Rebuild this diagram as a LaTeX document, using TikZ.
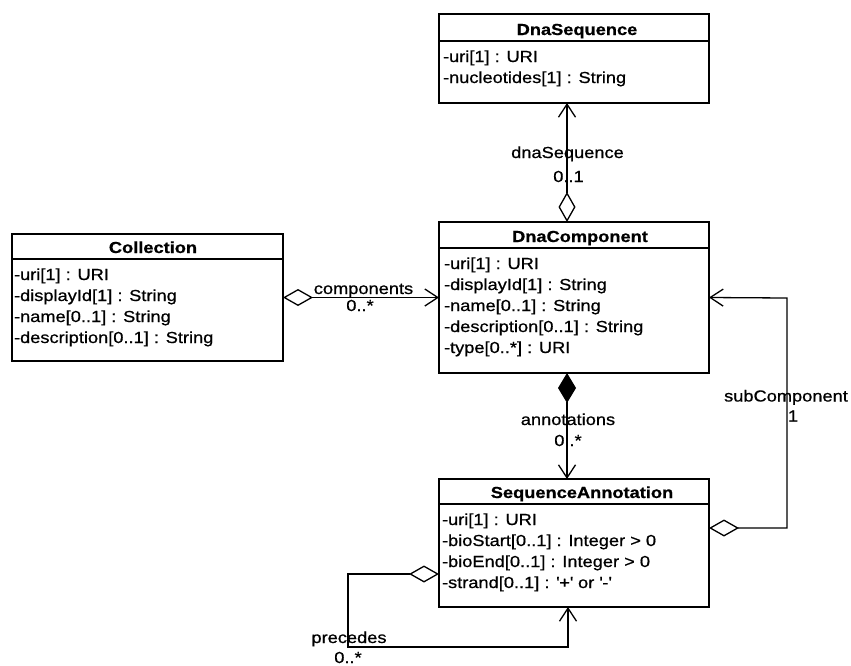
\documentclass[tikz,border=0pt]{standalone}
\usepackage{fontspec}
\setmainfont{Liberation Sans}[FakeStretch=1.14,FakeBold=0.7]
\usetikzlibrary{arrows.meta}
\begin{document}
\begin{tikzpicture}[x=1pt,y=-1pt,line width=1.3pt,
  txt/.style={inner sep=0pt,outer sep=0pt,font=\fontsize{16}{19}\selectfont},
  attr/.style={txt,anchor=base west},
  ctitle/.style={txt,anchor=base,font=\fontsize{16}{19}\selectfont\bfseries},
  lbl/.style={txt,anchor=base},
  cls/.style={draw,line width=1.3pt,anchor=north west,inner sep=0pt,outer sep=0pt,minimum width=270pt},
  divider/.style={line width=1.3pt},
  agg/.style={{Diamond[open,length=30pt,width=17pt]}-{Straight Barb[length=13pt,width=17pt]}},
  compo/.style={{Diamond[length=30pt,width=18pt]}-{Straight Barb[length=13pt,width=17pt]}},
]
\fill[white] (0,0) rectangle (851,665);
\useasboundingbox (0,0) rectangle (851,665);

% DnaSequence
\node[cls,minimum height=89pt] (dnaseq) at (439,14) {};
\draw[divider] (dnaseq.north west) ++(0,27) -- ++(270,0);
\node[ctitle] (dnaseqT) at (577,35) {DnaSequence};
\node[attr] (dnaseqA1) at (443,62) {-uri[1] : URI};
\node[attr] (dnaseqA2) at (443,83) {-nucleotides[1] : String};

% Collection
\node[cls,minimum width=271pt,minimum height=127pt] (coll) at (12,234) {};
\draw[divider] (coll.north west) ++(0,25) -- ++(271,0);
\node[ctitle] (collT) at (153,253) {Collection};
\node[attr] (collA1) at (14,280) {-uri[1] : URI};
\node[attr] (collA2) at (14,301) {-displayId[1] : String};
\node[attr] (collA3) at (14,322) {-name[0..1] : String};
\node[attr] (collA4) at (14,343) {-description[0..1] : String};

% DnaComponent
\node[cls,minimum height=151pt] (dnacomp) at (439,222) {};
\draw[divider] (dnacomp.north west) ++(0,26) -- ++(270,0);
\node[ctitle] (dnacompT) at (580,242) {DnaComponent};
\node[attr] (dnacompA1) at (444,269) {-uri[1] : URI};
\node[attr] (dnacompA2) at (444,290) {-displayId[1] : String};
\node[attr] (dnacompA3) at (444,311) {-name[0..1] : String};
\node[attr] (dnacompA4) at (444,332) {-description[0..1] : String};
\node[attr] (dnacompA5) at (444,353) {-type[0..*] : URI};

% SequenceAnnotation
\node[cls,minimum height=128pt] (seqann) at (439,479) {};
\draw[divider] (seqann.north west) ++(0,25) -- ++(270,0);
\node[ctitle] (seqannT) at (582,498) {SequenceAnnotation};
\node[attr] (seqannA1) at (442,525) {-uri[1] : URI};
\node[attr] (seqannA2) at (442,546) {-bioStart[0..1] : Integer > 0};
\node[attr] (seqannA3) at (442,567) {-bioEnd[0..1] : Integer > 0};
\node[attr] (seqannA4) at (442,588) {-strand[0..1] : \textquotesingle+\textquotesingle{} or \textquotesingle-\textquotesingle};

% connectors
\draw[agg] ([xshift=-7pt]dnacomp.north) -- ([xshift=-7pt]dnaseq.south);
\draw[compo] ([xshift=-7pt]dnacomp.south) -- ([xshift=-7pt]seqann.north);
\draw[agg] (coll.east) -- (dnacomp.west);
\coordinate (scx) at (787,298);
\draw[agg] ([yshift=15pt]seqann.east) -| (scx) -- (dnacomp.east);
\coordinate (pcx) at (348,647);
\draw[agg] ([yshift=-31pt]seqann.west) -| (pcx) -| ([xshift=-6pt]seqann.south);

% labels
\node[lbl] (l1) at (363.5,294) {components};
\node[lbl] (l1m) at (360,311) {0..*};
\node[lbl] (l2) at (567.5,158) {dnaSequence};
\node[lbl] (l2m) at (568.5,182) {0..1};
\node[lbl] (l3) at (568,425) {annotations};
\node[lbl] (l3m) at (568,446) {0..*};
\node[lbl] (l4) at (786,401.5) {subComponent};
\node[lbl] (l4m) at (793,421.5) {1};
\node[lbl] (l5) at (349,643) {precedes};
\node[lbl] (l5m) at (348,663) {0..*};
\end{tikzpicture}
\end{document}
